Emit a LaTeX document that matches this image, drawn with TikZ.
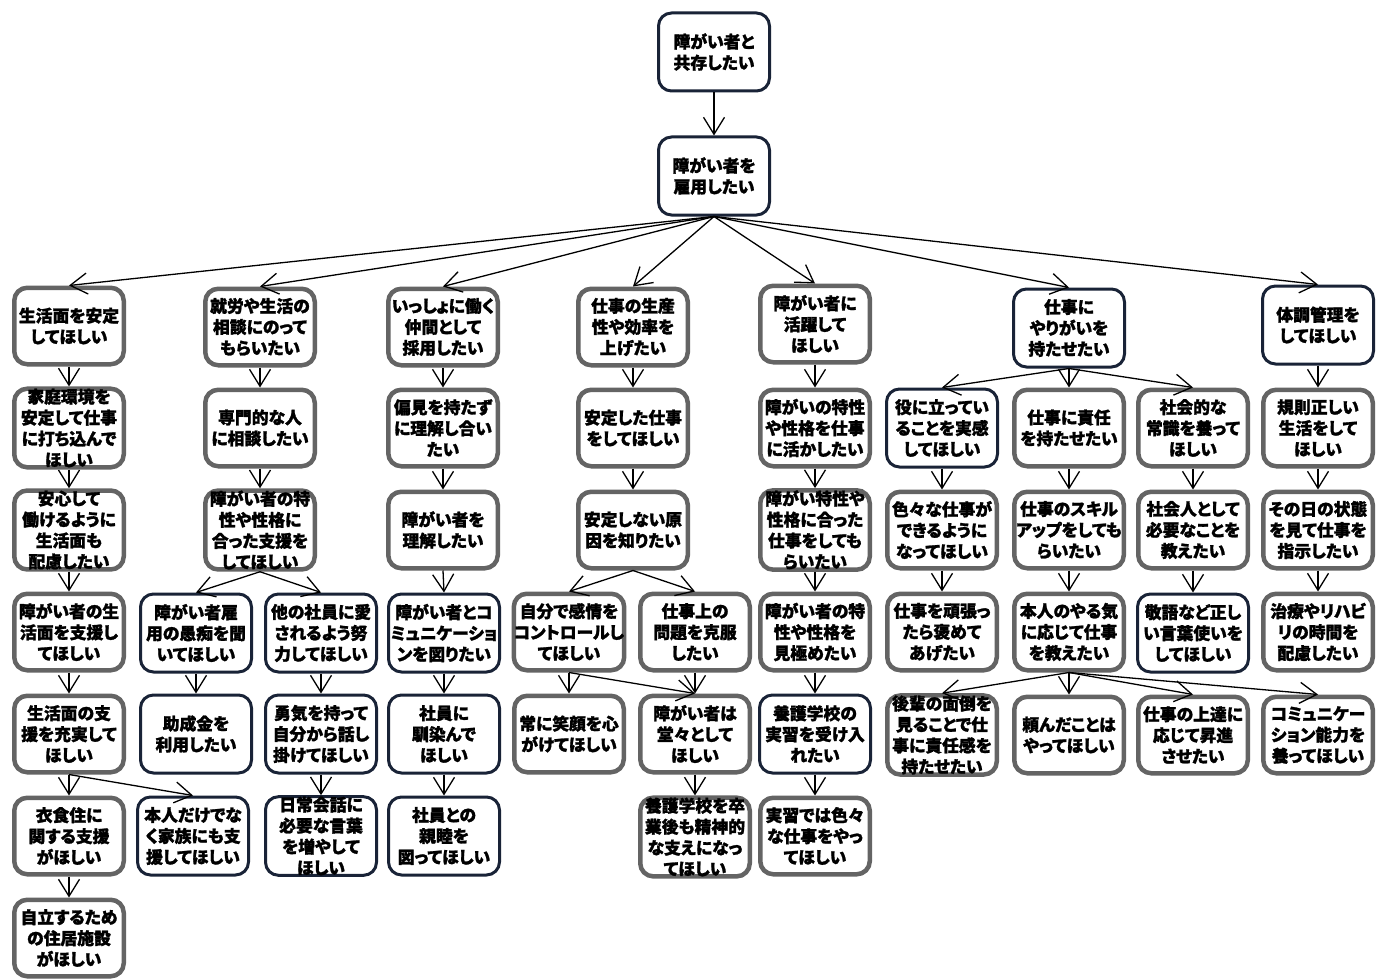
\documentclass[tikz,border=0pt]{standalone}
\usepackage{fontspec}
\usetikzlibrary{arrows.meta}
\newfontfamily\jp{Noto Sans CJK JP}[RawFeature=+palt, BoldFeatures={FakeBold=1.5}]
\definecolor{boxgray}{RGB}{100,100,100}
\definecolor{boxnavy}{RGB}{25,35,55}
\tikzset{
  box/.style={draw=boxgray, line width=4.5pt, rounded corners=13pt, fill=white,
    minimum width=109.5pt, minimum height=76.5pt, align=center, inner sep=0pt,
    font=\jp\bfseries\fontsize{16.8}{21}\selectfont},
  dbox/.style={box, draw=boxnavy, line width=3pt, minimum width=111pt, minimum height=78pt},
  arr/.style={line width=1.3pt, -{Straight Barb[length=17pt,width=21pt,line width=1.3pt]}}
}
\begin{document}
\begin{tikzpicture}[x=1pt,y=-1pt]
\useasboundingbox[fill=white] (0,0) rectangle (1386,979);

% root and second level
\node[dbox] (top)   at (714,52)  {障がい者と\\共存したい};
\node[dbox] (koyou) at (714,176) {障がい者を\\雇用したい};

% first row of needs
\node[box]  (s1) at (69,326)   {生活面を安定\\してほしい};
\node[box]  (s2) at (260,327)  {就労や生活の\\相談にのって\\もらいたい};
\node[box]  (s3) at (443,327)  {いっしょに働く\\仲間として\\採用したい};
\node[box]  (s4) at (633,327)  {仕事の生産\\性や効率を\\上げたい};
\node[box]  (s5) at (815,324)  {障がい者に\\活躍して\\ほしい};
\node[dbox] (s6) at (1069,328) {仕事に\\やりがいを\\持たせたい};
\node[dbox] (s7) at (1318,325) {体調管理を\\してほしい};

% column 1
\node[box]  (a2) at (69,428)  {家庭環境を\\安定して仕事\\に打ち込んで\\ほしい};
\node[box]  (a3) at (69,530)  {安心して\\働けるように\\生活面も\\配慮したい};
\node[box]  (a4) at (69,632)  {障がい者の生\\活面を支援し\\てほしい};
\node[box]  (a5) at (69,734)  {生活面の支\\援を充実して\\ほしい};
\node[box]  (a6) at (69,836)  {衣食住に\\関する支援\\がほしい};
\node[box]  (a7) at (69,938)  {自立するため\\の住居施設\\がほしい};
\node[dbox] (a5b) at (193,836) {本人だけでな\\く家族にも支\\援してほしい};

% column 2
\node[box]  (b2) at (260,428) {専門的な人\\に相談したい};
\node[box]  (b3) at (260,530) {障がい者の特\\性や性格に\\合った支援を\\してほしい};
\node[dbox] (b4) at (196,633) {障がい者雇\\用の愚痴を聞\\いてほしい};
\node[dbox] (b5) at (196,734) {助成金を\\利用したい};
\node[dbox] (b4r) at (321,633) {他の社員に愛\\されるよう努\\力してほしい};
\node[dbox] (b5r) at (321,734) {勇気を持って\\自分から話し\\掛けてほしい};
\node[dbox] (b6r) at (321,836) {日常会話に\\必要な言葉\\を増やして\\ほしい};

% column 3
\node[box]  (d2) at (443,428) {偏見を持たず\\に理解し合い\\たい};
\node[box]  (d3) at (443,530) {障がい者を\\理解したい};
\node[dbox] (d4) at (444,633) {障がい者とコ\\ミュニケーショ\\ンを図りたい};
\node[dbox] (d5) at (444,734) {社員に\\馴染んで\\ほしい};
\node[dbox] (d6) at (444,836) {社員との\\親睦を\\図ってほしい};

% column 4
\node[box]  (e2) at (633,428) {安定した仕事\\をしてほしい};
\node[box]  (e3) at (633,530) {安定しない原\\因を知りたい};
\node[box]  (e4) at (569,632) {自分で感情を\\コントロールし\\てほしい};
\node[box]  (e4r) at (695,632) {仕事上の\\問題を克服\\したい};
\node[box]  (e5) at (569,734) {常に笑顔を心\\がけてほしい};
\node[box]  (e5r) at (695,734) {障がい者は\\堂々として\\ほしい};
\node[box]  (e6r) at (695,837) {養護学校を卒\\業後も精神的\\な支えになっ\\てほしい};

% column 5
\node[box]  (f2) at (815,428) {障がいの特性\\や性格を仕事\\に活かしたい};
\node[box]  (f3) at (815,530) {障がい特性や\\性格に合った\\仕事をしても\\らいたい};
\node[box]  (f4) at (815,632) {障がい者の特\\性や性格を\\見極めたい};
\node[dbox] (f5) at (815,734) {養護学校の\\実習を受け入\\れたい};
\node[box]  (f6) at (815,836) {実習では色々\\な仕事をやっ\\てほしい};

% column 6
\node[dbox] (g2a) at (942,428)  {役に立ってい\\ることを実感\\してほしい};
\node[box]  (g3a) at (942,530)  {色々な仕事が\\できるように\\なってほしい};
\node[box]  (g4a) at (942,632)  {仕事を頑張っ\\たら褒めて\\あげたい};
\node[box]  (g2b) at (1069,428) {仕事に責任\\を持たせたい};
\node[box]  (g3b) at (1069,530) {仕事のスキル\\アップをしても\\らいたい};
\node[box]  (g4b) at (1069,632) {本人のやる気\\に応じて仕事\\を教えたい};
\node[box]  (g2c) at (1193,428) {社会的な\\常識を養って\\ほしい};
\node[box]  (g3c) at (1193,530) {社会人として\\必要なことを\\教えたい};
\node[dbox] (g4c) at (1193,633) {敬語など正し\\い言葉使いを\\してほしい};
\node[box]  (h1) at (942,735)  {後輩の面倒を\\見ることで仕\\事に責任感を\\持たせたい};
\node[box]  (h2) at (1069,735) {頼んだことは\\やってほしい};
\node[box]  (h3) at (1193,735) {仕事の上達に\\応じて昇進\\させたい};
\node[box]  (h4) at (1318,735) {コミュニケー\\ション能力を\\養ってほしい};

% column 7
\node[box]  (k2) at (1318,428) {規則正しい\\生活をして\\ほしい};
\node[box]  (k3) at (1318,530) {その日の状態\\を見て仕事を\\指示したい};
\node[box]  (k4) at (1318,632) {治療やリハビ\\リの時間を\\配慮したい};

% connectors
\foreach \p/\c in {top/koyou,
  koyou/s1, koyou/s2, koyou/s3, koyou/s4, koyou/s5, koyou/s6, koyou/s7,
  s1/a2, a2/a3, a3/a4, a4/a5, a5/a6, a6/a7, a5/a5b,
  s2/b2, b2/b3, b3/b4, b3/b4r, b4/b5, b4r/b5r, b5r/b6r,
  s3/d2, d2/d3, d3/d4, d4/d5, d5/d6,
  s4/e2, e2/e3, e3/e4, e3/e4r, e4/e5, e4/e5r, e4r/e5r, e5r/e6r,
  s5/f2, f2/f3, f3/f4, f4/f5, f5/f6,
  s6/g2a, s6/g2b, s6/g2c, g2a/g3a, g3a/g4a, g2b/g3b, g3b/g4b,
  g2c/g3c, g3c/g4c, g4b/h1, g4b/h2, g4b/h3, g4b/h4,
  s7/k2, k2/k3, k3/k4}
  \draw[arr] (\p.south) -- (\c.north);
\end{tikzpicture}
\end{document}
